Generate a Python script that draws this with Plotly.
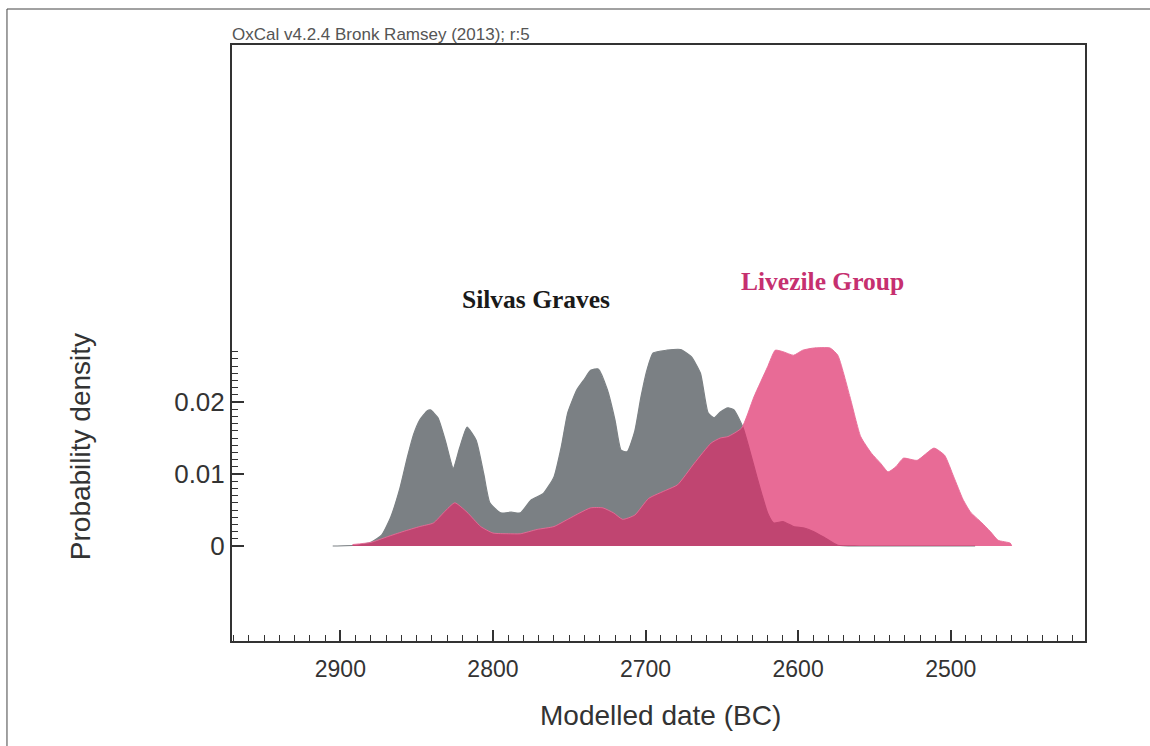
import plotly.graph_objects as go

# ---- data ----
silvas_years = [2905, 2890, 2880, 2873, 2867, 2861, 2856, 2852, 2848, 2843, 2841, 2836, 2831,
                2826, 2822, 2817, 2811, 2806, 2802, 2795, 2788, 2782, 2775, 2767, 2760, 2755,
                2751, 2745, 2740, 2736, 2731, 2725, 2720, 2716, 2712, 2707, 2703, 2699, 2695,
                2686, 2677, 2670, 2664, 2659, 2655, 2651, 2646, 2642, 2636, 2632, 2627, 2620,
                2616, 2610, 2603, 2596, 2590, 2583, 2574, 2560, 2484]
silvas_density = [0, 0.0001, 0.0005, 0.0015, 0.004, 0.008, 0.0124, 0.0155, 0.0175, 0.0188, 0.0189,
                  0.0178, 0.0145, 0.0108, 0.0135, 0.0165, 0.0147, 0.0100, 0.006, 0.0046, 0.0047,
                  0.0046, 0.0064, 0.0073, 0.0096, 0.014, 0.0185, 0.0217, 0.0232, 0.0244, 0.0246,
                  0.0217, 0.0175, 0.0133, 0.0131, 0.016, 0.0207, 0.0245, 0.0268, 0.0272, 0.0273,
                  0.0263, 0.024, 0.0185, 0.0178, 0.0186, 0.0192, 0.0189, 0.0164, 0.0135, 0.0096,
                  0.0046, 0.0032, 0.0034, 0.0027, 0.0025, 0.002, 0.0012, 0.0001, 0, 0]

livezile_years = [2892, 2880, 2869, 2859, 2848, 2839, 2832, 2825, 2817, 2808, 2800, 2790, 2782,
                  2771, 2760, 2751, 2743, 2736, 2728, 2721, 2715, 2707, 2698, 2686, 2679, 2668,
                  2657, 2651, 2646, 2637, 2629, 2620, 2615, 2610, 2603, 2597, 2590, 2579, 2574,
                  2566, 2559, 2552, 2546, 2541, 2536, 2531, 2522, 2511, 2504, 2498, 2492, 2487,
                  2480, 2474, 2469, 2461, 2460]
livezile_density = [0.0002, 0.0005, 0.0013, 0.002, 0.0027, 0.0032, 0.0047, 0.006, 0.0047, 0.0027,
                    0.0018, 0.0017, 0.0017, 0.0023, 0.0027, 0.0037, 0.0046, 0.0053, 0.0053, 0.0046,
                    0.0037, 0.0043, 0.0066, 0.0078, 0.0085, 0.0115, 0.0143, 0.015, 0.0152, 0.0164,
                    0.0207, 0.0249, 0.0272, 0.027, 0.0265, 0.0272, 0.0275, 0.0275, 0.0265, 0.0207,
                    0.0152, 0.0129, 0.0115, 0.0103, 0.011, 0.0122, 0.0119, 0.0136, 0.0126, 0.0096,
                    0.0065, 0.0047, 0.0033, 0.002, 0.0008, 0.0004, 0]

x_ticks = [2900, 2800, 2700, 2600, 2500]
y_ticks = [0, 0.01, 0.02]
y_ticktext = ["0", "0.01", "0.02"]
y_minor = [round(i * 0.001, 3) for i in range(1, 28)]

AX = "#333333"
GRAY = "#7b8084"
PINK = "rgba(222,44,106,0.7)"
SANS = "Liberation Sans, Arial, sans-serif"
SERIF = "Liberation Serif, Times New Roman, serif"

fig = go.Figure()
fig.add_trace(go.Scatter(x=silvas_years, y=silvas_density, mode="lines", fill="tozeroy",
                         line=dict(color=GRAY, width=1.2, shape="spline", smoothing=0.5),
                         fillcolor=GRAY, hoverinfo="skip"))
fig.add_trace(go.Scatter(x=livezile_years, y=livezile_density, mode="lines", fill="tozeroy",
                         line=dict(color="rgba(232,107,151,0.9)", width=1, shape="spline",
                                   smoothing=0.5),
                         fillcolor=PINK, hoverinfo="skip"))

fig.update_layout(
    width=1150, height=746, autosize=False,
    margin=dict(l=232, r=65, t=45, b=105),
    paper_bgcolor="white", plot_bgcolor="white",
    showlegend=False,
    font=dict(family=SANS, color=AX),
    xaxis=dict(range=[2971, 2412], tickmode="array", tickvals=x_ticks,
               ticks="inside", ticklen=11, tickwidth=1.5, tickcolor=AX,
               showline=True, linewidth=2, linecolor=AX, mirror=True,
               showgrid=False, zeroline=False,
               tickfont=dict(size=23, color=AX), ticklabelstandoff=6,
               minor=dict(tickmode="linear", tick0=0, dtick=10, ticks="inside",
                          ticklen=6, tickwidth=1, tickcolor=AX, showgrid=False)),
    yaxis=dict(range=[-0.0132, 0.0696], tickmode="array", tickvals=y_ticks, ticktext=y_ticktext,
               ticks="inside", ticklen=12, tickwidth=1.5, tickcolor=AX,
               showline=True, linewidth=2, linecolor=AX, mirror=True,
               showgrid=False, zeroline=False,
               tickfont=dict(size=26, color=AX), ticklabelstandoff=0,
               minor=dict(tickmode="array", tickvals=y_minor, ticks="inside",
                          ticklen=6, tickwidth=1, tickcolor=AX, showgrid=False)),
)

annotations = [
    dict(text="OxCal v4.2.4 Bronk Ramsey (2013); r:5", x=-0.002, y=0.998, xref="paper", yref="paper",
         xanchor="left", yanchor="bottom", showarrow=False,
         font=dict(size=17, color="#555555", family=SANS)),
    dict(text="Probability density", x=-0.178, y=0.3255, xref="paper", yref="paper",
         xanchor="center", yanchor="middle",
         textangle=-90, showarrow=False, font=dict(size=28, color=AX)),
    dict(text="Modelled date (BC)", x=0.5018, y=-0.1258, xref="paper", yref="paper",
         xanchor="center", yanchor="middle",
         showarrow=False, font=dict(size=28, color=AX)),
    dict(text="<b>Silvas Graves</b>", x=2772, y=0.0342, xref="x", yref="y", showarrow=False,
         xanchor="center", yanchor="middle",
         font=dict(size=25.5, color="#1a1a1a", family=SERIF)),
    dict(text="<b>Livezile Group</b>", x=2584, y=0.0367, xref="x", yref="y", showarrow=False,
         xanchor="center", yanchor="middle",
         font=dict(size=25.5, color="#c6306f", family=SERIF)),
]
fig.update_layout(annotations=annotations)

# outer figure border (left and top edges)
fig.add_shape(type="line", xref="paper", yref="paper", x0=-0.2638, x1=-0.2638, y0=-0.18, y1=1.0604,
              line=dict(color="#444444", width=1))
fig.add_shape(type="line", xref="paper", yref="paper", x0=-0.2638, x1=1.08, y0=1.0604, y1=1.0604,
              line=dict(color="#444444", width=1))

fig.write_html("out.html")
